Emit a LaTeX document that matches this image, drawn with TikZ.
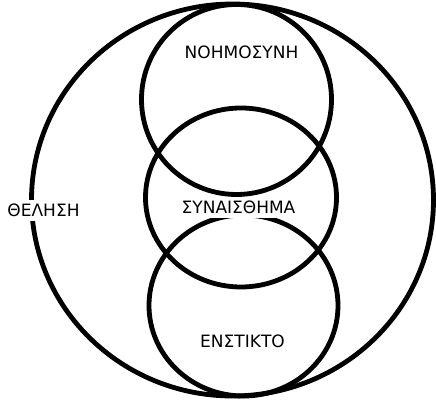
\documentclass[tikz,border=0pt]{standalone}
\usepackage{fontspec}
\setmainfont{DejaVu Sans}
\tikzset{
    cerchio/.style={line width=4.8pt, black},
    etichetta/.style={fill=white, inner sep=4pt, font=\fontsize{17}{20}\selectfont}
}
\begin{document}
\begin{tikzpicture}[x=1pt, y=1pt]
    \useasboundingbox (0,0) rectangle (436,401);

    % Contorni
    \draw[cerchio] (232.5,201) ellipse (201 and 196);
    \draw[cerchio] (236.5,301.5) circle (95);
    \draw[cerchio] (241,203.5) ellipse (95.5 and 89.5);
    \draw[cerchio] (243.5,95.5) ellipse (94.5 and 90.5);

    % Etichette
    \node[etichetta] (noimosyni)   at (241.5,348.5) {ΝΟΗΜΟΣΥΝΗ};
    \node[etichetta] (synaisthima) at (238.5,193.5) {ΣΥΝΑΙΣΘΗΜΑ};
    \node[etichetta] (thelisi)     at (43.5,190.5)  {ΘΕΛΗΣΗ};
    \node[etichetta] (enstikto)    at (242.5,59.5)  {ΕΝΣΤΙΚΤΟ};
\end{tikzpicture}
\end{document}
